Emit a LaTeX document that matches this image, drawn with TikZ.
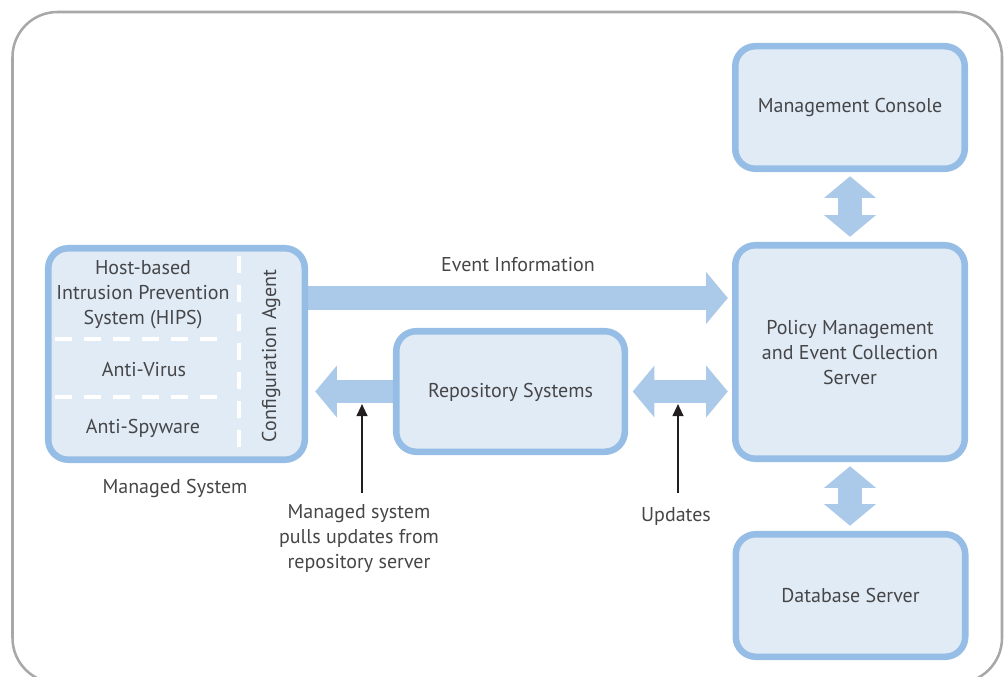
\documentclass[tikz,border=0pt]{standalone}
\usepackage{fontspec}
\setmainfont{PT Sans}
\usetikzlibrary{arrows.meta,calc}
\definecolor{boxedge}{RGB}{150,189,229}
\definecolor{boxfill}{RGB}{225,235,246}
\definecolor{flow}{RGB}{171,201,233}
\definecolor{ink}{RGB}{70,70,72}
\definecolor{framegray}{RGB}{168,168,170}
\definecolor{pointercol}{RGB}{35,31,32}
\pgfdeclarelayer{back}
\pgfsetlayers{back,main}
\begin{document}
\begin{tikzpicture}[x=0.75pt,y=-0.75pt,
  every node/.style={text=ink, font=\fontsize{15}{18.75}\selectfont},
  sysbox/.style={draw=boxedge, fill=boxfill, line width=4.9pt, rounded corners=15pt, inner sep=0pt},
  bigtip/.tip={Triangle[length=16.25pt, width=39pt, line width=0pt]},
  flowone/.style={draw=flow, line width=17.5pt, -bigtip},
  flowtwo/.style={draw=flow, line width=17.5pt, bigtip-bigtip},
  divider/.style={draw=white, line width=3pt, dash pattern=on 12.75pt off 9pt},
  pointer/.style={draw=pointercol, line width=1.5pt, -{Triangle[length=9pt, width=8pt]}}
]
\useasboundingbox (0,0) rectangle (1006,677);

% outer frame (its lower edge runs just below the page)
\draw[framegray, line width=1.9pt, rounded corners=33.75pt] (12.5,12) rectangle (1002,683);

% system boxes
\node[sysbox, minimum width=192.4pt, minimum height=158.6pt] (ms) at (176.5,354) {};
\node[sysbox, minimum width=171.4pt, minimum height=90.4pt] (repo) at (510.5,391.5) {};
\node[sysbox, minimum width=172.1pt, minimum height=91.9pt] (mc) at (850,107.5) {};
\node[sysbox, minimum width=172.1pt, minimum height=160.1pt] (pol) at (850,352) {};
\node[sysbox, minimum width=172.1pt, minimum height=91.9pt] (db) at (850.5,595.5) {};

% partitions of the managed system
\draw[divider] (239,256) -- (239,447);
\draw[divider] (55,339) -- (219,339);
\draw[divider] (55,397) -- (219,397);

% box texts
\node[align=center] (hips) at (143,295) {Host-based\\Intrusion Prevention\\System (HIPS)};
\node (av) at (144,370) {Anti-Virus};
\node (asw) at (143,428) {Anti-Spyware};
\node[rotate=90] (cfg) at (271,356) {Configuration\hspace{0.35em}Agent};
\node (repotxt) at ($(repo)+(0,1)$) {Repository Systems};
\node (mctxt) at ($(mc)+(0,0)$) {Management Console};
\node[align=center] (poltxt) at (850,352.5) {Policy Management\\and Event Collection\\Server};
\node (dbtxt) at (db) {Database Server};

% labels
\node (evlbl) at (518,265) {Event Information};
\node (mslbl) at (175,488) {Managed System};
\node[align=center] (pulllbl) at (359,539) {Managed system\\pulls updates from\\repository server};
\node (updlbl) at (676,516) {Updates};

% broad flow arrows behind the boxes
\begin{pgfonlayer}{back}
\draw[flowone] (ms.east |- 0,298) -- ($(pol.west |- 0,298)+(-4.25,0)$);
\draw[flowone] (repo.west) -- ($(ms.east |- repo.west)+(7.25,0)$);
\draw[flowtwo] ($(repo.east)+(4.75,0)$) -- ($(pol.west |- repo.east)+(-4.25,0)$);
\draw[flowtwo] ($(mc.south)+(0,4.25)$) -- ($(pol.north)+(0,-5.25)$);
\draw[flowtwo] ($(pol.south)+(0,4.25)$) -- ($(pol.south |- db.north)+(0,-5.25)$);
\end{pgfonlayer}

% thin pointers
\coordinate (pullFoot) at (362,493);
\coordinate (pullTip) at (362,404);
\coordinate (updFoot) at (678,493);
\coordinate (updTip) at (678,404);
\draw[pointer] (pullFoot) -- (pullTip);
\draw[pointer] (updFoot) -- (updTip);
\end{tikzpicture}
\end{document}
